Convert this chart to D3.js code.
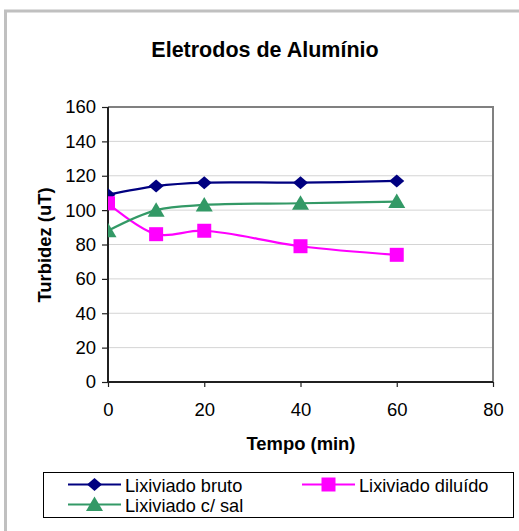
<!DOCTYPE html>
<html>
<head>
<meta charset="utf-8">
<script src="https://cdn.jsdelivr.net/npm/d3@7"></script>
<style>
  html, body { margin: 0; padding: 0; background: #fff; }
  svg { display: block; font-family: "Liberation Sans", Arial, sans-serif; }
</style>
</head>
<body>
<svg id="chart" width="519" height="531"></svg>
<script>
// Turbidity over time for three leachate samples (aluminium electrodes)
const tempo = [0, 10, 20, 40, 60];
const bruto = [109, 114, 116, 116, 117];
const diluido = [104, 86, 88, 79, 74];
const comSal = [88, 100, 103, 104, 105];
const seriesNames = ["Lixiviado bruto", "Lixiviado diluído", "Lixiviado c/ sal"];
const xTicks = [0, 20, 40, 60, 80];
const yTicks = [0, 20, 40, 60, 80, 100, 120, 140, 160];

const svg = d3.select("#chart");
const W = 519, H = 531;

// outer chart frame (continues past right and bottom edges)
svg.append("rect")
  .attr("x", 5.5).attr("y", 11).attr("width", W + 10).attr("height", H + 10)
  .attr("fill", "#fff").attr("stroke", "#c0c0c0").attr("stroke-width", 3);

const plot = { left: 108, top: 107, right: 493, bottom: 382 };
const x = d3.scaleLinear().domain([0, 80]).range([plot.left, plot.right]);
const y = d3.scaleLinear().domain([0, 160]).range([plot.bottom, plot.top]);

// title
svg.append("text")
  .attr("x", 265).attr("y", 57)
  .attr("text-anchor", "middle")
  .attr("font-size", 21.5).attr("font-weight", "bold")
  .text("Eletrodos de Alumínio");

// gridlines
svg.append("g")
  .selectAll("line")
  .data(yTicks.filter(d => d > 0 && d < 160))
  .join("line")
  .attr("x1", plot.left).attr("x2", plot.right)
  .attr("y1", d => y(d)).attr("y2", d => y(d))
  .attr("stroke", "#d4d4d4").attr("stroke-width", 1);

// plot frame: top and right edges
svg.append("path")
  .attr("d", `M${plot.left},${plot.top}H${plot.right}V${plot.bottom}`)
  .attr("fill", "none").attr("stroke", "#808080").attr("stroke-width", 2);

// axes
const yAxis = d3.axisLeft(y).tickValues(yTicks).tickSize(6).tickPadding(6);
const xAxis = d3.axisBottom(x).tickValues(xTicks).tickSize(5).tickPadding(16);

const gy = svg.append("g").attr("transform", `translate(${plot.left},0)`).call(yAxis);
const gx = svg.append("g").attr("transform", `translate(0,${plot.bottom})`).call(xAxis);
[gx, gy].forEach(g => {
  g.select(".domain").attr("stroke", "#202020").attr("stroke-width", 2);
  g.selectAll(".tick line").attr("stroke", "#202020").attr("stroke-width", 1.2);
  g.selectAll(".tick text")
    .attr("font-size", 18.5).attr("fill", "#000")
    .attr("font-family", "Liberation Sans, Arial, sans-serif");
});
gy.select(".domain").attr("d", `M0,${plot.top}V${plot.bottom}`);
gx.select(".domain").attr("d", `M${plot.left},0H${plot.right}`);

// axis titles
svg.append("text")
  .attr("x", 301).attr("y", 450)
  .attr("text-anchor", "middle")
  .attr("font-size", 18.4).attr("font-weight", "bold")
  .text("Tempo (min)");
svg.append("text")
  .attr("transform", "translate(51,245) rotate(-90)")
  .attr("text-anchor", "middle")
  .attr("font-size", 18.4).attr("font-weight", "bold")
  .text("Turbidez (uT)");

// series
const series = [
  { name: seriesNames[0], values: bruto, color: "#000080", shape: "diamond" },
  { name: seriesNames[1], values: diluido, color: "#ff00ff", shape: "square" },
  { name: seriesNames[2], values: comSal, color: "#339966", shape: "triangle" }
];

function markerPath(shape) {
  if (shape === "diamond") return "M0,-6.5L7.5,0L0,6.5L-7.5,0Z";
  if (shape === "square") return "M-7,-7H7V7H-7Z";
  return "M0,-8L8.5,6.5H-8.5Z";
}

svg.append("clipPath").attr("id", "plotClip")
  .append("rect")
  .attr("x", plot.left).attr("y", plot.top - 20)
  .attr("width", plot.right - plot.left).attr("height", plot.bottom - plot.top + 20);

const line = d3.line()
  .x((d, i) => x(tempo[i]))
  .y(d => y(d))
  .curve(d3.curveCatmullRom.alpha(0.5));

const body = svg.append("g").attr("clip-path", "url(#plotClip)");
series.forEach(s => {
  body.append("path")
    .attr("d", line(s.values))
    .attr("fill", "none").attr("stroke", s.color).attr("stroke-width", 2.2);
});
series.forEach(s => {
  body.append("g").selectAll("path")
    .data(s.values)
    .join("path")
    .attr("transform", (d, i) => `translate(${x(tempo[i])},${y(d)})`)
    .attr("d", markerPath(s.shape))
    .attr("fill", s.color);
});

// legend
const legend = svg.append("g");
legend.append("rect")
  .attr("x", 43.5).attr("y", 472.5).attr("width", 470).attr("height", 45)
  .attr("fill", "#fff").attr("stroke", "#000").attr("stroke-width", 1);
const legendPos = [
  { x: 68, y: 484.5 },
  { x: 302, y: 484.5 },
  { x: 68, y: 504.5 }
];
series.forEach((s, i) => {
  const p = legendPos[i];
  const g = legend.append("g").attr("transform", `translate(${p.x},${p.y})`);
  g.append("line").attr("x1", 0).attr("x2", 53).attr("y1", 0).attr("y2", 0)
    .attr("stroke", s.color).attr("stroke-width", 2.2);
  g.append("path").attr("transform", "translate(26.5,0)")
    .attr("d", markerPath(s.shape)).attr("fill", s.color);
  g.append("text").attr("x", 57).attr("y", 7)
    .attr("font-size", 18.2).text(s.name);
});
</script>
</body>
</html>
